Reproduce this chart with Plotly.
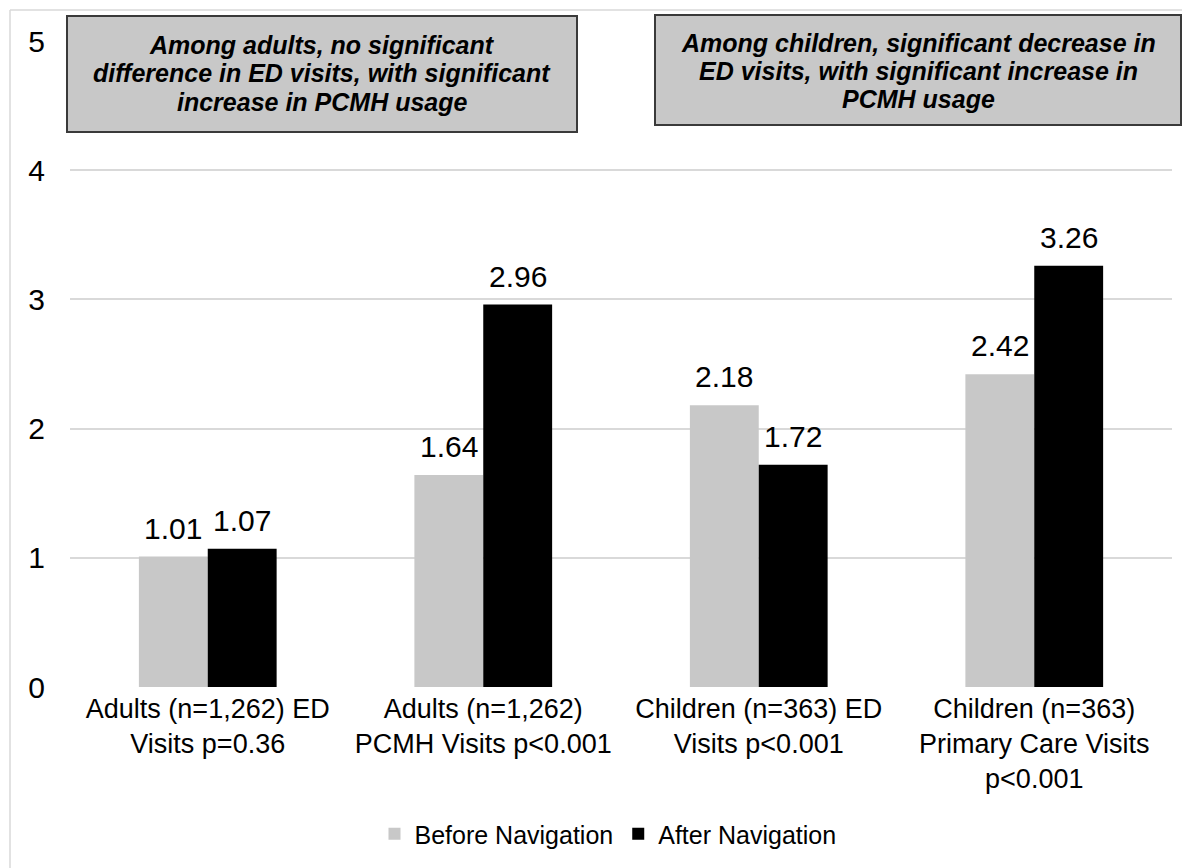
import plotly.graph_objects as go

# Categories (multi-line axis labels) and mean visits per series
categories = [
    "Adults (n=1,262) ED<br>Visits p=0.36",
    "Adults (n=1,262)<br>PCMH Visits p<0.001",
    "Children (n=363) ED<br>Visits p<0.001",
    "Children (n=363)<br>Primary Care Visits<br>p<0.001",
]
before_navigation = [1.01, 1.64, 2.18, 2.42]
after_navigation = [1.07, 2.96, 1.72, 3.26]
series_names = ["Before Navigation", "After Navigation"]
y_ticks = [0, 1, 2, 3, 4, 5]

box_lines = [
    ["Among adults, no significant",
     "difference in ED visits, with significant",
     "increase in PCMH usage"],
    ["Among children, significant decrease in",
     "ED visits, with significant increase in",
     "PCMH usage"],
]

FONT = "Liberation Sans, Arial, sans-serif"
GRID = "#d9d9d9"
LIGHT = "#c8c8c8"

fig = go.Figure()
fig.add_trace(go.Bar(x=categories, y=before_navigation, name=series_names[0],
                     marker=dict(color=LIGHT, line=dict(width=0))))
fig.add_trace(go.Bar(x=categories, y=after_navigation, name=series_names[1],
                     marker=dict(color="#000000", line=dict(width=0))))

W, H = 1182, 868
ml, mr, mt, mb = 70, 10, 41, 181
plot_w = W - ml - mr
plot_h = H - mt - mb


def px_x(p):
    return (p - ml) / plot_w


def px_y(p):
    return (H - mb - p) / plot_h


# Value labels above each bar
half_bar = plot_w / len(categories) * 0.5 / 4
annotations = []
for vals, shift in ((before_navigation, -half_bar), (after_navigation, half_bar)):
    for cat, v in zip(categories, vals):
        annotations.append(dict(
            x=cat, y=v, xref="x", yref="y", text=f"{v:.2f}", showarrow=False,
            xshift=shift, yshift=10, yanchor="bottom",
            font=dict(family=FONT, size=30, color="#000000")))

# Callout boxes at the top of the chart
boxes = [
    dict(x0=67, x1=577, y0=16, y1=132, lines_y=[45, 73, 102]),
    dict(x0=655, x1=1181, y0=15, y1=125, lines_y=[43, 71, 99]),
]
shapes = []
for b, lines in zip(boxes, box_lines):
    shapes.append(dict(type="rect", xref="paper", yref="paper",
                       x0=px_x(b["x0"]), x1=px_x(b["x1"]),
                       y0=px_y(b["y1"]), y1=px_y(b["y0"]),
                       fillcolor=LIGHT, line=dict(color="#3a3a3a", width=2),
                       layer="above"))
    cx = (b["x0"] + b["x1"]) / 2
    for line, ly in zip(lines, b["lines_y"]):
        annotations.append(dict(
            x=px_x(cx), y=px_y(ly), xref="paper", yref="paper",
            xanchor="center", yanchor="middle", showarrow=False,
            text=f"<b><i>{line}</i></b>",
            font=dict(family=FONT, size=25, color="#000000")))

# Light chart-area frame
shapes += [
    dict(type="line", xref="paper", yref="paper", x0=px_x(10), x1=px_x(10),
         y0=px_y(H + 5), y1=px_y(10), line=dict(color=GRID, width=1.5)),
    dict(type="line", xref="paper", yref="paper", x0=px_x(10), x1=px_x(W + 5),
         y0=px_y(10), y1=px_y(10), line=dict(color=GRID, width=1.5)),
]

fig.update_layout(
    width=W, height=H,
    margin=dict(l=ml, r=mr, t=mt, b=mb),
    paper_bgcolor="white", plot_bgcolor="white",
    barmode="group", bargap=0.5, bargroupgap=0,
    font=dict(family=FONT, color="#000000"),
    showlegend=True,
    legend=dict(orientation="h", x=px_x(608), xanchor="center",
                y=px_y(834), yanchor="middle",
                font=dict(family=FONT, size=25, color="#000000"),
                itemwidth=30, traceorder="normal"),
    annotations=annotations,
    shapes=shapes,
)
fig.update_xaxes(showgrid=False, showline=False, ticks="",
                 tickfont=dict(family=FONT, size=27, color="#000000"),
                 tickangle=0, ticklabelstandoff=3)
fig.update_yaxes(range=[0, 5], tickvals=y_ticks, showgrid=True, gridcolor=GRID,
                 gridwidth=1.5, zeroline=False, showline=False, ticks="",
                 tickfont=dict(family=FONT, size=30, color="#000000"),
                 ticklabelstandoff=24)

fig.write_html("out.html")
